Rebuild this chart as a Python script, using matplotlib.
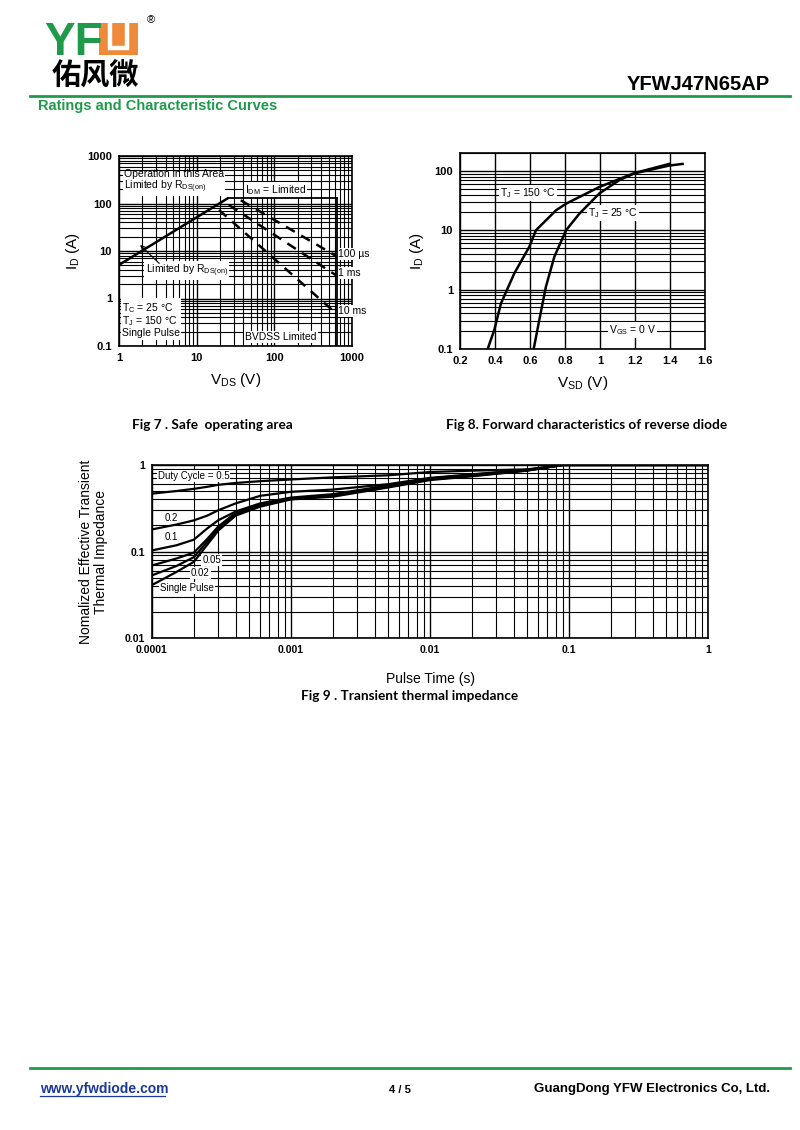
import numpy as np
import matplotlib
matplotlib.use("Agg")
import matplotlib.pyplot as plt
from matplotlib.lines import Line2D
from matplotlib.patches import Rectangle

plt.rcParams['font.family'] = ['Liberation Sans', 'DejaVu Sans']
plt.rcParams['mathtext.default'] = 'regular'

W, H = 800, 1130
GREEN = '#1f9a4a'
ORANGE = '#ef8a3a'

# ---- Fig 7 : safe operating area ----
rds_v = [1, 25]
rds_i = [5.1, 128]
idm_v = [25, 650]
idm_i = [128, 128]
bv_v = [650, 650]
bv_i = [0.1, 128]
sw100us_v = [37, 620]
sw100us_i = [117, 7.9]
sw1ms_v = [26, 620]
sw1ms_i = [93, 3.1]
sw10ms_v = [19.4, 620]
sw10ms_i = [73, 0.49]
soa_xticks = [1, 10, 100, 1000]
soa_yticks = [0.1, 1, 10, 100, 1000]

# ---- Fig 8 : reverse diode forward characteristics ----
vsd_150 = [0.358, 0.396, 0.434, 0.51, 0.596, 0.634, 0.749, 0.806, 0.996, 1.187, 1.396, 1.472]
id_150 = [0.1, 0.21, 0.585, 1.87, 5.27, 10, 21.7, 28, 53.5, 89.6, 123, 131]
vsd_25 = [0.621, 0.653, 0.691, 0.739, 0.806, 0.882, 0.996, 1.11, 1.206, 1.396]
id_25 = [0.1, 0.307, 1.12, 3.57, 10, 19, 41.6, 69.8, 93.3, 131]
vsd_ticks = [0.2, 0.4, 0.6, 0.8, 1.0, 1.2, 1.4, 1.6]
vsd_ticklabels = ['0.2', '0.4', '0.6', '0.8', '1', '1.2', '1.4', '1.6']

# ---- Fig 9 : transient thermal impedance ----
t_pulse = [1e-4, 1.5e-4, 2e-4, 2.5e-4, 3e-4, 4e-4, 6e-4, 1e-3, 2e-3, 5e-3, 1e-2, 2e-2, 5e-2, 9e-2, 1]
z_single = [0.041, 0.058, 0.076, 0.12, 0.175, 0.26, 0.33, 0.40, 0.43, 0.55, 0.67, 0.74, 0.86, 1.0, 1.0]
z_002 = [0.053, 0.068, 0.086, 0.13, 0.185, 0.27, 0.34, 0.405, 0.44, 0.56, 0.68, 0.75, 0.865, 1.0, 1.0]
z_005 = [0.069, 0.083, 0.097, 0.14, 0.195, 0.28, 0.35, 0.41, 0.45, 0.57, 0.69, 0.76, 0.87, 1.0, 1.0]
z_01 = [0.103, 0.118, 0.137, 0.185, 0.23, 0.29, 0.36, 0.42, 0.46, 0.58, 0.70, 0.77, 0.875, 1.0, 1.0]
z_02 = [0.18, 0.205, 0.229, 0.26, 0.30, 0.36, 0.44, 0.49, 0.52, 0.60, 0.71, 0.78, 0.88, 1.0, 1.0]
z_05 = [0.467, 0.50, 0.53, 0.56, 0.59, 0.62, 0.65, 0.68, 0.72, 0.76, 0.83, 0.86, 0.89, 1.0, 1.0]
t_ticks = [1e-4, 1e-3, 1e-2, 1e-1, 1]
t_ticklabels = ['0.0001', '0.001', '0.01', '0.1', '1']
z_ticks = [0.01, 0.1, 1]
z_ticklabels = ['0.01', '0.1', '1']


def fx(x):
    return x / W


def fy(y):
    return 1 - y / H


def box(l, t, r, b):
    return [fx(l), fy(b), (r - l) / W, (b - t) / H]


def grid_style(ax, xminor=True, size=8):
    ax.tick_params(which='both', length=0, labelsize=size, pad=5)
    for lab in ax.get_xticklabels() + ax.get_yticklabels():
        lab.set_fontweight('bold')
    ax.grid(True, which='major', color='black', lw=1.0)
    if xminor:
        ax.grid(True, which='minor', color='black', lw=0.8)
    else:
        ax.grid(True, which='minor', axis='y', color='black', lw=0.8)
    for s in ax.spines.values():
        s.set_linewidth(1.2)


wb = dict(facecolor='white', edgecolor='none', pad=0.8)
CURVE = dict(color='black', zorder=5)

fig = plt.figure(figsize=(W / 100, H / 100), dpi=100)

# ---- header ----
fig.text(fx(44), fy(55), 'YF', color=GREEN, fontsize=33, fontweight='bold', va='baseline')
fig.patches.append(Rectangle((fx(99), fy(55)), 39 / W, 32 / H, transform=fig.transFigure,
                             facecolor=ORANGE, edgecolor='none'))
fig.add_artist(Line2D([fx(109.5), fx(109.5), fx(127.5), fx(127.5)],
                      [fy(23), fy(47.5), fy(47.5), fy(23)],
                      transform=fig.transFigure, color='white', lw=3.2,
                      solid_joinstyle='miter'))
fig.text(fx(147), fy(20), '®', fontsize=8, va='center')
fig.text(fx(52), fy(76), '佑风微', fontsize=21, fontweight='bold', va='center',
         family=['Noto Sans CJK SC', 'DejaVu Sans'])
fig.text(fx(770), fy(85), 'YFWJ47N65AP', fontsize=14.5, fontweight='bold', ha='right', va='center')
fig.add_artist(Line2D([fx(30), fx(790)], [fy(95.5), fy(95.5)], transform=fig.transFigure,
                      color=GREEN, lw=2))
fig.text(fx(38), fy(106), 'Ratings and Characteristic Curves', color=GREEN, fontsize=10.5,
         fontweight='bold', va='center')

# ---- Fig 7 ----
ax7 = fig.add_axes(box(119, 156, 352, 346))
ax7.set_xscale('log')
ax7.set_yscale('log')
ax7.set_xlim(1, 1000)
ax7.set_ylim(0.1, 1000)
ax7.set_xticks(soa_xticks)
ax7.set_xticklabels([str(v) for v in soa_xticks])
ax7.set_yticks(soa_yticks)
ax7.set_yticklabels(['0.1', '1', '10', '100', '1000'])
grid_style(ax7)
ax7.plot(rds_v, rds_i, lw=1.8, **CURVE)
ax7.plot(idm_v, idm_i, lw=1.3, **CURVE)
ax7.plot(bv_v, bv_i, lw=1.3, **CURVE)
for v, i in [(sw100us_v, sw100us_i), (sw1ms_v, sw1ms_i), (sw10ms_v, sw10ms_i)]:
    ax7.plot(v, i, lw=1.8, ls=(0, (4, 3)), **CURVE)
ax7.text(1.15, 280, 'Operation in this Area\nLimited by R$_{DS(on)}$', fontsize=7.5,
         va='center', linespacing=0.95, bbox=wb)
ax7.text(42, 190, 'I$_{DM}$ = Limited', fontsize=7.5, va='center', bbox=wb)
ax7.text(660, 8.5, '100 µs', fontsize=7.5, va='center', bbox=wb, clip_on=False)
ax7.text(660, 3.4, '1 ms', fontsize=7.5, va='center', bbox=wb, clip_on=False)
ax7.text(660, 0.55, '10 ms', fontsize=7.5, va='center', bbox=wb, clip_on=False)
ax7.text(2.2, 3.9, 'Limited by R$_{DS(on)}$', fontsize=7.5, va='center', bbox=wb)
ax7.annotate('', xy=(1.76, 14.7), xytext=(3.5, 5.0),
             arrowprops=dict(arrowstyle='->', color='black', lw=0.8))
ax7.text(1.1, 0.36, 'T$_C$ = 25 °C\nT$_J$ = 150 °C\nSingle Pulse', fontsize=7.5,
         va='center', linespacing=1.0, bbox=wb)
ax7.text(42, 0.155, 'BVDSS Limited', fontsize=7.5, va='center', bbox=wb)
ax7.set_xlabel('V$_{DS}$ (V)', fontsize=11, labelpad=6)
ax7.set_ylabel('I$_D$ (A)', fontsize=11, labelpad=4)

# ---- Fig 8 ----
ax8 = fig.add_axes(box(460, 153, 705, 349))
ax8.set_yscale('log')
ax8.set_xlim(0.2, 1.6)
ax8.set_ylim(0.1, 200)
ax8.set_xticks(vsd_ticks)
ax8.set_xticklabels(vsd_ticklabels)
ax8.set_yticks([0.1, 1, 10, 100])
ax8.set_yticklabels(['0.1', '1', '10', '100'])
grid_style(ax8, xminor=False)
ax8.plot(vsd_150, id_150, lw=1.8, **CURVE)
ax8.plot(vsd_25, id_25, lw=1.8, **CURVE)
ax8.text(0.43, 42, 'T$_J$ = 150 °C', fontsize=7.5, va='center', bbox=wb)
ax8.text(0.93, 19.5, 'T$_J$ = 25 °C', fontsize=7.5, va='center', bbox=wb)
ax8.text(1.05, 0.21, 'V$_{GS}$ = 0 V', fontsize=7.5, va='center', bbox=wb)
ax8.set_xlabel('V$_{SD}$ (V)', fontsize=11, labelpad=6)
ax8.set_ylabel('I$_D$ (A)', fontsize=11, labelpad=6)

# ---- Fig 9 ----
ax9 = fig.add_axes(box(152, 465, 708, 638))
ax9.set_xscale('log')
ax9.set_yscale('log')
ax9.set_xlim(1e-4, 1)
ax9.set_ylim(0.01, 1)
ax9.set_xticks(t_ticks)
ax9.set_xticklabels(t_ticklabels)
ax9.set_yticks(z_ticks)
ax9.set_yticklabels(z_ticklabels)
grid_style(ax9, size=7.5)
for z in [z_single, z_002, z_005, z_01, z_02, z_05]:
    ax9.plot(t_pulse, z, lw=1.6, **CURVE)
ax9.text(1.1e-4, 0.75, 'Duty Cycle = 0.5', fontsize=7, va='center', bbox=wb)
ax9.text(1.24e-4, 0.245, '0.2', fontsize=7, va='center', bbox=wb)
ax9.text(1.24e-4, 0.147, '0.1', fontsize=7, va='center', bbox=wb)
ax9.text(2.3e-4, 0.080, '0.05', fontsize=7, va='center', bbox=wb)
ax9.text(1.9e-4, 0.0565, '0.02', fontsize=7, va='center', bbox=wb)
ax9.text(1.14e-4, 0.038, 'Single Pulse', fontsize=7, va='center', bbox=wb)
ax9.set_xlabel('Pulse Time (s)', fontsize=10, labelpad=12)
ax9.set_ylabel('Nomalized Effective Transient\nThermal Impedance', fontsize=10,
               labelpad=12, linespacing=1.1)

# ---- captions ----
cap = dict(fontsize=9.8, fontweight='bold', family=['Lato', 'DejaVu Sans'], va='center')
fig.text(fx(212), fy(425), 'Fig 7 . Safe  operating area', ha='center', **cap)
fig.text(fx(587), fy(425), 'Fig 8. Forward characteristics of reverse diode', ha='center', **cap)
fig.text(fx(410), fy(696), 'Fig 9 . Transient thermal impedance', ha='center', **cap)

# ---- footer ----
fig.add_artist(Line2D([fx(30), fx(790)], [fy(1068), fy(1068)], transform=fig.transFigure,
                      color=GREEN, lw=2))
fig.text(fx(40), fy(1089), 'www.yfwdiode.com', color='#1a3a9a', fontsize=10,
         fontweight='bold', va='center')
fig.add_artist(Line2D([fx(40), fx(165)], [fy(1096), fy(1096)], transform=fig.transFigure,
                      color='#1a3a9a', lw=0.9))
fig.text(fx(400), fy(1090), '4 / 5', fontsize=8, fontweight='bold', ha='center', va='center')
fig.text(fx(770), fy(1089), 'GuangDong YFW Electronics Co, Ltd.', fontsize=9.5,
         fontweight='bold', ha='right', va='center')

fig.savefig('out.png', dpi=100)
